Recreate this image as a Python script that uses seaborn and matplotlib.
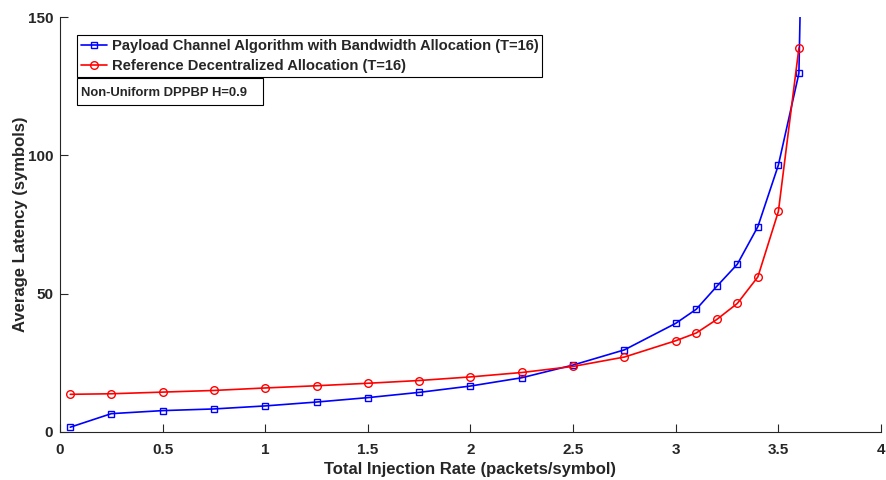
import pandas as pd
import matplotlib
matplotlib.use("Agg")
import matplotlib.pyplot as plt
from matplotlib.patches import Rectangle
import seaborn as sns

# --- Data ---
rate = [0.05, 0.25, 0.5, 0.75, 1.0, 1.25, 1.5, 1.75, 2.0, 2.25, 2.5,
        2.75, 3.0, 3.1, 3.2, 3.3, 3.4, 3.5, 3.6]
payload_latency = [1.6, 6.5, 7.6, 8.2, 9.3, 10.7, 12.3, 14.2, 16.5, 19.5, 24.1,
                   29.6, 39.2, 44.3, 52.6, 60.6, 74.2, 96.5, 129.7]
# blue curve leaves the plot above 150 just after 3.6
payload_tail_rate = [3.7]
payload_tail_latency = [500.0]
reference_latency = [13.5, 13.7, 14.3, 14.9, 15.8, 16.6, 17.5, 18.5, 19.8, 21.4, 23.6,
                     27.0, 32.9, 35.7, 40.6, 46.4, 56.0, 79.7, 138.9]

payload_label = "Payload Channel Algorithm with Bandwidth Allocation (T=16)"
reference_label = "Reference Decentralized Allocation (T=16)"
note_text = "Non-Uniform DPPBP H=0.9"
x_ticks = [0, 0.5, 1, 1.5, 2, 2.5, 3, 3.5, 4]
x_tick_labels = ["0", "0.5", "1", "1.5", "2", "2.5", "3", "3.5", "4"]
y_ticks = [0, 50, 100, 150]

df_payload = pd.DataFrame({"rate": rate + payload_tail_rate,
                           "latency": payload_latency + payload_tail_latency})
df_reference = pd.DataFrame({"rate": rate, "latency": reference_latency})

# --- Style ---
sns.set_style("ticks")
plt.rcParams["font.family"] = ["Liberation Sans", "DejaVu Sans"]
plt.rcParams["font.weight"] = "bold"
plt.rcParams["xtick.direction"] = "in"
plt.rcParams["ytick.direction"] = "in"

fig = plt.figure(figsize=(8.87, 4.8), dpi=100)
ax = fig.add_axes([60 / 887, 48.4 / 480, 821 / 887, 414.3 / 480])

sns.lineplot(data=df_payload, x="rate", y="latency", ax=ax, color="#0000ff",
             marker="s", markersize=4.5, markerfacecolor="none",
             markeredgecolor="#0000ff", markeredgewidth=1.0, linewidth=1.2,
             label=payload_label, estimator=None)
sns.lineplot(data=df_reference, x="rate", y="latency", ax=ax, color="#ff0000",
             marker="o", markersize=5.5, markerfacecolor="none",
             markeredgecolor="#ff0000", markeredgewidth=1.0, linewidth=1.2,
             label=reference_label, estimator=None)

ax.set_xlim(0, 4)
ax.set_ylim(0, 150)
ax.set_xticks(x_ticks)
ax.set_xticklabels(x_tick_labels)
ax.set_yticks(y_ticks)
ax.tick_params(axis="both", labelsize=11, length=6, width=0.8, color="#262626",
               labelcolor="#262626")
ax.tick_params(axis="x", pad=8)
ax.tick_params(axis="y", pad=5)
for lbl in ax.get_xticklabels() + ax.get_yticklabels():
    lbl.set_fontweight("bold")

ax.set_xlabel("Total Injection Rate (packets/symbol)", fontsize=12,
              fontweight="bold", color="#262626", labelpad=4)
ax.set_ylabel("Average Latency (symbols)", fontsize=12,
              fontweight="bold", color="#262626", labelpad=0)

sns.despine(ax=ax)
for side in ["left", "bottom"]:
    ax.spines[side].set_color("#262626")
    ax.spines[side].set_linewidth(0.8)

leg = ax.legend(loc="upper left", bbox_to_anchor=(17 / 821, (431.6 - 35) / 414.3),
                borderaxespad=0, fancybox=False, framealpha=1, edgecolor="black",
                prop={"weight": "bold", "size": 10.6}, handlelength=1.8,
                handletextpad=0.3, borderpad=0.25, labelspacing=0.42)
leg.get_frame().set_linewidth(0.8)

# annotation box under the legend
box_left = 17 / 821
box_top = (431.6 - 78) / 414.3
box_w = 186 / 821
box_h = 27 / 414.3
ax.add_patch(Rectangle((box_left, box_top - box_h), box_w, box_h,
                       transform=ax.transAxes, fill=True, facecolor="white",
                       edgecolor="black", linewidth=0.8, zorder=5))
ax.text(box_left + 4 / 821, box_top - box_h / 2 - 1 / 414.3, note_text,
        transform=ax.transAxes, fontsize=9.4, fontweight="bold",
        ha="left", va="center", zorder=6)

fig.savefig("out.png", dpi=100)
